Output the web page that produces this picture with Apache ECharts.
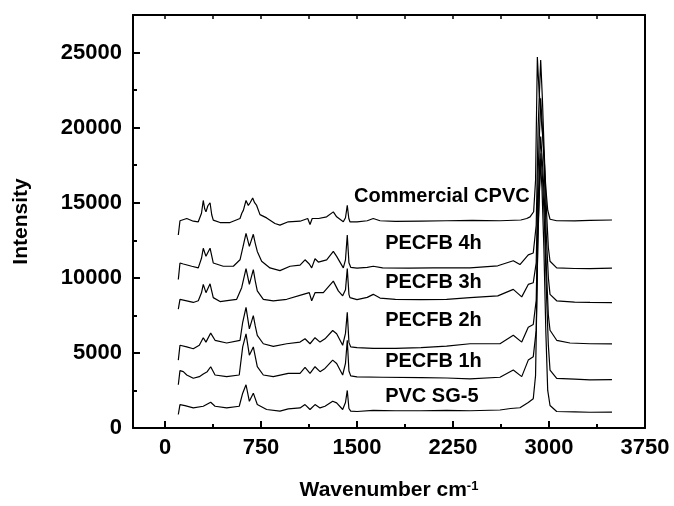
<!DOCTYPE html>
<html>
<head>
<meta charset="utf-8">
<script src="https://cdn.jsdelivr.net/npm/echarts@6/dist/echarts.min.js"></script>
<style>
  html, body { margin: 0; padding: 0; background: #fff; }
  #container { width: 674px; height: 506px; }
</style>
</head>
<body>
<div id="container"></div>
<script>
// spectra: [wavenumber, intensity]
var cpvc = [
  [104,12850],[117,13800],[125,13840],[170,13950],[221,13770],[260,13730],[285,14300],[299,15150],[310,14600],[320,14390],
  [335,14800],[352,15000],[365,14200],[377,13840],[430,13680],[508,13680],[586,13950],[600,14300],[612,14490],[633,15150],
  [651,14820],[665,15000],[685,15310],[700,15000],[716,14820],[742,14210],[794,13990],[859,13620],[898,13510],[963,13730],
  [1055,13770],[1115,13950],[1133,13550],[1150,13950],[1200,13950],[1263,14060],[1315,14390],[1341,14060],[1393,13730],[1410,14000],
  [1424,14820],[1436,13950],[1445,13730],[1500,13720],[1580,13800],[1627,13950],[1680,13800],[1800,13760],[2000,13780],[2200,13800],
  [2400,13820],[2617,13800],[2780,13850],[2826,13950],[2852,14060],[2880,14400],[2895,16500],[2909,24700],[2922,22500],[2940,20500],
  [2955,19000],[2975,16000],[2990,14500],[3008,13900],[3060,13800],[3200,13790],[3320,13820],[3492,13850]
];
var pecfb4h = [
  [104,9890],[117,10990],[143,10920],[209,10770],[260,10660],[285,11300],[299,11970],[320,11430],[352,11970],[377,10990],
  [455,10770],[534,10770],[586,11200],[607,11970],[633,12960],[659,12090],[690,12900],[705,12300],[721,11760],[755,11100],
  [820,10660],[898,10480],[977,10770],[1055,10840],[1094,11200],[1127,10920],[1146,10660],[1172,11270],[1198,11050],[1263,11200],
  [1315,11760],[1341,11430],[1393,10660],[1410,11200],[1424,12850],[1437,11000],[1451,10700],[1500,10650],[1580,10700],[1627,10770],
  [1700,10660],[1900,10640],[2100,10660],[2383,10660],[2600,10800],[2721,11140],[2773,10880],[2838,11530],[2877,11650],[2900,13500],
  [2915,20000],[2935,24500],[2948,22000],[2962,18500],[2980,14500],[2995,12000],[3008,11100],[3060,10660],[3200,10620],[3320,10610],
  [3492,10640]
];
var pecfb3h = [
  [104,7920],[117,8570],[170,8470],[221,8360],[260,8470],[285,9000],[299,9560],[320,9010],[352,9600],[377,8680],
  [430,8420],[500,8500],[560,8570],[599,9340],[633,10610],[659,9560],[690,10550],[705,9800],[721,9130],[768,8570],
  [846,8470],[951,8570],[1080,8900],[1127,9010],[1146,8470],[1172,9010],[1237,9010],[1315,9780],[1354,9130],[1388,8800],
  [1410,9200],[1424,10610],[1437,8900],[1445,8680],[1500,8550],[1580,8700],[1627,8900],[1680,8650],[1800,8560],[2000,8550],
  [2200,8560],[2383,8680],[2600,8800],[2721,9230],[2787,8730],[2838,9560],[2877,9670],[2900,11000],[2915,17000],[2935,21950],
  [2945,20500],[2960,18000],[2978,13000],[2995,10000],[3008,8900],[3060,8470],[3200,8380],[3320,8360],[3492,8350]
];
var pecfb2h = [
  [104,4520],[117,5510],[170,5400],[221,5280],[268,5510],[299,6010],[320,5720],[357,6320],[391,5840],[482,5660],
  [586,5840],[607,7040],[633,8030],[659,6600],[690,7480],[705,6800],[721,6170],[768,5610],[846,5440],[951,5610],
  [1055,5720],[1094,5940],[1133,5610],[1172,6010],[1211,5720],[1250,5940],[1310,6490],[1341,6270],[1388,5510],[1410,6300],
  [1424,7700],[1437,5700],[1451,5400],[1500,5350],[1627,5300],[1800,5300],[2000,5350],[2200,5450],[2383,5610],[2617,5610],
  [2721,6170],[2787,5720],[2838,6710],[2877,6890],[2900,8500],[2915,15000],[2935,19400],[2950,17500],[2965,15000],[2980,10500],
  [2995,7500],[3008,6510],[3060,5840],[3164,5660],[3320,5610],[3492,5600]
];
var pecfb1h = [
  [104,2880],[117,3820],[143,3750],[170,3530],[221,3310],[268,3420],[299,3600],[330,3750],[357,4080],[391,3530],
  [482,3420],[580,3530],[607,5400],[633,6270],[659,4850],[690,5400],[721,4080],[768,3530],[846,3420],[963,3640],
  [1055,3640],[1094,4030],[1133,3640],[1172,4080],[1211,3750],[1250,3970],[1310,4520],[1341,4300],[1388,3530],[1410,4300],
  [1424,5840],[1437,3800],[1451,3470],[1500,3400],[1700,3380],[2000,3350],[2200,3330],[2383,3270],[2617,3380],[2721,3860],
  [2787,3420],[2838,4520],[2877,4740],[2900,6500],[2915,13500],[2937,18300],[2950,16500],[2965,13500],[2980,9000],[2995,5500],
  [3008,3860],[3060,3310],[3200,3250],[3320,3200],[3492,3220]
];
var pvcSG5 = [
  [104,900],[117,1560],[156,1490],[221,1340],[299,1450],[357,1710],[391,1450],[482,1340],[580,1450],[607,2320],
  [633,2880],[659,1780],[690,2320],[721,1560],[794,1230],[898,1120],[963,1270],[1055,1340],[1094,1560],[1133,1230],
  [1172,1560],[1211,1340],[1250,1450],[1310,1780],[1341,1670],[1388,1230],[1410,1700],[1424,2500],[1437,1300],[1451,1120],
  [1500,1100],[1627,1180],[1800,1150],[2000,1150],[2200,1180],[2383,1150],[2617,1200],[2700,1300],[2773,1350],[2838,1700],
  [2877,1950],[2895,3500],[2912,12000],[2932,17900],[2945,16000],[2960,12000],[2975,6500],[2990,2500],[3008,1500],[3060,1100],
  [3200,1080],[3320,1050],[3492,1060]
];

var seriesNames = ['Commercial CPVC', 'PECFB 4h', 'PECFB 3h', 'PECFB 2h', 'PECFB 1h', 'PVC SG-5'];
var seriesData = [cpvc, pecfb4h, pecfb3h, pecfb2h, pecfb1h, pvcSG5];

var xMajor = [0, 750, 1500, 2250, 3000, 3750];
var xMinor = [375, 1125, 1875, 2625, 3375];
var xTop = [0, 375, 750, 1125, 1500, 1875, 2250, 2625, 3000, 3375];
var yMajor = [0, 5000, 10000, 15000, 20000, 25000];
var yMinor = [2500, 7500, 12500, 17500, 22500];

// where each curve name sits, in data units (left edge, middle)
var labelAt = [[1477, 15395], [1720, 12300], [1720, 9670], [1720, 7150], [1720, 4410], [1720, 2100]];

var FONT = '"Liberation Sans", Arial, sans-serif';
var black = '#000';

var chart = echarts.init(document.getElementById('container'));
var option;

function plain(v) { return String(v); }

// an axis that only draws ticks (or only its line when values is empty)
function tickAxis(pos, values, len, showLine) {
  return {
    type: 'value', min: -250, max: 3750, position: pos,
    axisLine: { show: showLine, onZero: false, lineStyle: { color: black, width: 2 } },
    axisTick: { show: values.length > 0, inside: true, length: len, customValues: values, lineStyle: { color: black, width: 2 } },
    axisLabel: { show: false },
    splitLine: { show: false }
  };
}
function yTickAxis(pos, values, len, showLine) {
  return {
    type: 'value', min: 0, max: 27500, position: pos,
    axisLine: { show: showLine, onZero: false, lineStyle: { color: black, width: 2 } },
    axisTick: { show: values.length > 0, inside: true, length: len, customValues: values, lineStyle: { color: black, width: 2 } },
    axisLabel: { show: false },
    splitLine: { show: false }
  };
}

var xMain = tickAxis('bottom', [], 0, true);
xMain.axisLabel = { show: true, customValues: xMajor, formatter: plain, color: black, fontFamily: FONT, fontWeight: 'bold', fontSize: 22, margin: 9 };
xMain.name = 'Wavenumber cm{sup|-1}';
xMain.nameLocation = 'middle';
xMain.nameGap = 52;
xMain.nameTextStyle = {
  color: black, fontFamily: FONT, fontWeight: 'bold', fontSize: 21,
  rich: { sup: { color: black, fontFamily: FONT, fontWeight: 'bold', fontSize: 13, verticalAlign: 'top', padding: [0, 0, 8, 0] } }
};

var yMain = yTickAxis('left', [], 0, true);
yMain.axisLabel = { show: true, customValues: yMajor, formatter: plain, color: black, fontFamily: FONT, fontWeight: 'bold', fontSize: 22, margin: 11 };
yMain.name = 'Intensity';
yMain.nameLocation = 'middle';
yMain.nameGap = 101;
yMain.nameTextStyle = { color: black, fontFamily: FONT, fontWeight: 'bold', fontSize: 21 };

var topTicks = tickAxis('top', xTop, 4, false);
topTicks.axisTick.lineStyle.width = 1.5;

var series = seriesData.map(function (d, i) {
  return {
    name: seriesNames[i],
    type: 'line',
    data: d,
    xAxisIndex: 0,
    yAxisIndex: 0,
    showSymbol: false,
    symbol: 'none',
    lineStyle: { color: black, width: 1.2 },
    z: 3,
    markPoint: {
      silent: true,
      symbol: 'circle',
      symbolSize: 0,
      data: [{ coord: labelAt[i] }],
      label: {
        show: true, position: 'right', distance: 0,
        formatter: seriesNames[i],
        color: black, fontFamily: FONT, fontWeight: 'bold', fontSize: 20
      }
    }
  };
});

option = {
  animation: false,
  backgroundColor: '#fff',
  grid: { left: 133, right: 29, top: 15, bottom: 74 },
  xAxis: [
    xMain,
    tickAxis('bottom', xMajor, 7, false),
    tickAxis('bottom', xMinor, 4, false),
    tickAxis('top', [], 0, true),
    topTicks
  ],
  yAxis: [
    yMain,
    yTickAxis('left', yMajor, 7, false),
    yTickAxis('left', yMinor, 4, false),
    yTickAxis('right', [], 0, true)
  ],
  series: series
};

option && chart.setOption(option);
</script>
</body>
</html>
